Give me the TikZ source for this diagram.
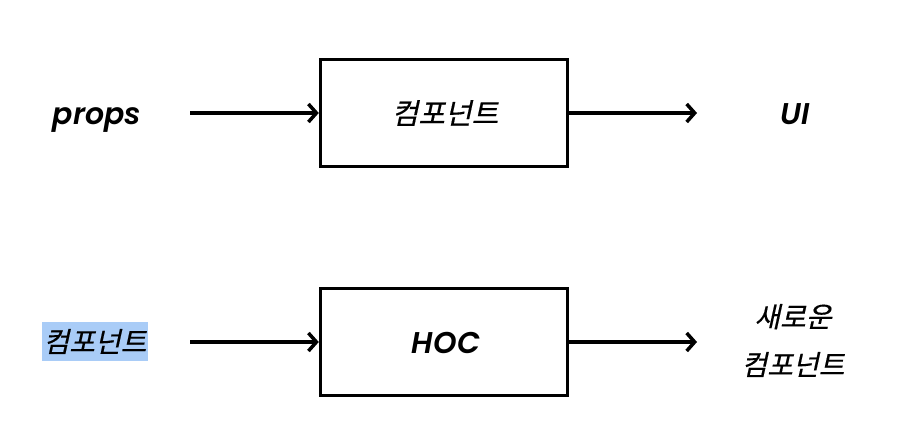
\documentclass[tikz,border=0pt]{standalone}
\usepackage{fontspec}
\setmainfont{Poppins}[ItalicFont={Poppins SemiBold Italic},BoldItalicFont={Poppins SemiBold Italic}]
\newfontfamily\kor[FakeSlant=0.22,FakeBold=0.4]{Noto Sans CJK KR}
\usetikzlibrary{arrows.meta}
\definecolor{hl}{HTML}{A9CCF7}
\begin{document}
\begin{tikzpicture}[x=1pt,y=-1pt,
  blk/.style={draw, line width=3.5pt, minimum width=247pt, minimum height=107pt, inner sep=0pt},
  lbl/.style={font=\fontsize{30}{36}\selectfont\itshape, inner sep=0pt, anchor=base},
  klbl/.style={font=\fontsize{29}{34}\selectfont\kor, inner sep=0pt},
  kbig/.style={font=\fontsize{28}{48}\selectfont\kor, inner sep=0pt},
  arr/.style={line width=3.5pt, -{Straight Barb[length=8pt,width=18pt,line width=3.5pt]}}]
\useasboundingbox (0,0) rectangle (901,447);
\node[blk] (comp) at (444,113) {};
\node[klbl] (compt) at (445,113) {컴포넌트};
\node[blk] (hoc) at (444,342) {};
\node[lbl] (hoct) at (446,353) {HOC};
\node[lbl] (props) at (97,124) {props};
\node[lbl] (ui) at (795,124) {UI};
\node[kbig, fill=hl, minimum width=106pt, minimum height=39pt] (inp) at (95,341.5) {컴포넌트};
\node[kbig, align=center] (out) at (793,340.5) {새로운\\컴포넌트};
\coordinate (a1) at (190,113);
\coordinate (a2) at (697,113);
\coordinate (b1) at (190,342);
\coordinate (b2) at (697,342);
\draw[arr] (a1) -- (comp.west);
\draw[arr] (comp.east) -- (a2);
\draw[arr] (b1) -- (hoc.west);
\draw[arr] (hoc.east) -- (b2);
\end{tikzpicture}
\end{document}
